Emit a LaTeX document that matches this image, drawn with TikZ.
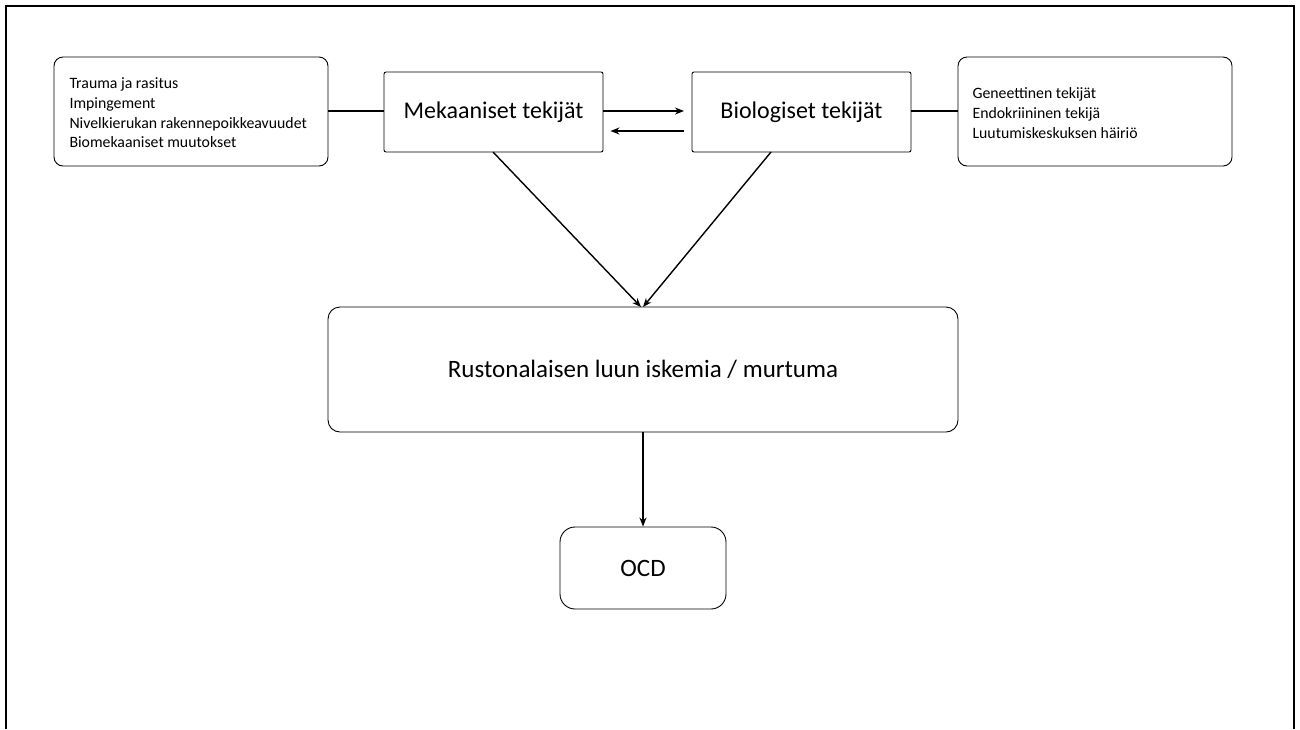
\documentclass[tikz,border=0pt]{standalone}
\usepackage{fontspec}
\setmainfont{Carlito}
\usetikzlibrary{arrows.meta}
\begin{document}
\begin{tikzpicture}[x=1pt,y=-1pt,
  rbox/.style={draw, line width=0.9pt, rounded corners=#1, inner sep=0pt},
  rbox/.default=8pt,
  conn/.style={line width=1.3pt},
  arr/.style={line width=1.4pt, -{Stealth[length=9pt,width=7pt]}},
  small/.style={font=\fontsize{15.8}{19.6}\selectfont, align=left},
  big/.style={font=\fontsize{24}{28}\selectfont},
  bigger/.style={font=\fontsize{25}{29}\selectfont}]
\useasboundingbox (0,0) rectangle (1300,729);
% outer frame (bottom open)
\draw[line width=2.5pt] (6,729) -- (6,6) -- (1294,6) -- (1294,729);
% boxes
\draw[rbox=9pt] (54,57) rectangle (328,166);
\node[small, anchor=west] (lt) at (66,113) {Trauma ja rasitus\\Impingement\\Nivelkierukan rakennepoikkeavuudet\\Biomekaaniset muutokset};
\coordinate (lb) at (328,111);
\node[draw, line width=0.9pt, rounded corners=2pt, minimum width=219pt, minimum height=80pt, big] (mek) at (493.5,112) {Mekaaniset tekijät};
\node[draw, line width=0.9pt, rounded corners=2pt, minimum width=219pt, minimum height=80pt, big] (bio) at (801.5,112) {Biologiset tekijät};
\draw[rbox=9pt] (958,57) rectangle (1232,166);
\node[small, anchor=west] (rt) at (969,113) {Geneettinen tekijät\\Endokriininen tekijä\\Luutumiskeskuksen häiriö};
\coordinate (rb) at (958,111);
\coordinate (ua) at (684,111);
\coordinate (la) at (684,131);
\node[draw, line width=0.9pt, rounded corners=12pt, minimum width=630pt, minimum height=125pt, bigger] (isk) at (643,369.5) {Rustonalaisen luun iskemia / murtuma};
\node[draw, line width=0.9pt, rounded corners=15pt, minimum width=166pt, minimum height=82pt, bigger] (ocd) at (643,568) {OCD};
% connectors
\draw[conn] (lb) -- (mek.west|-lb);
\draw[conn] (bio.east|-rb) -- (rb);
\draw[arr] (mek.east|-ua) -- (ua);
\draw[arr] (la) -- ([xshift=7pt]mek.east|-la);
\draw[arr] (493,152) -- (641,307);
\draw[arr] (771,152) -- (643,307);
\draw[arr] (isk.south) -- (ocd.north);
\end{tikzpicture}
\end{document}
